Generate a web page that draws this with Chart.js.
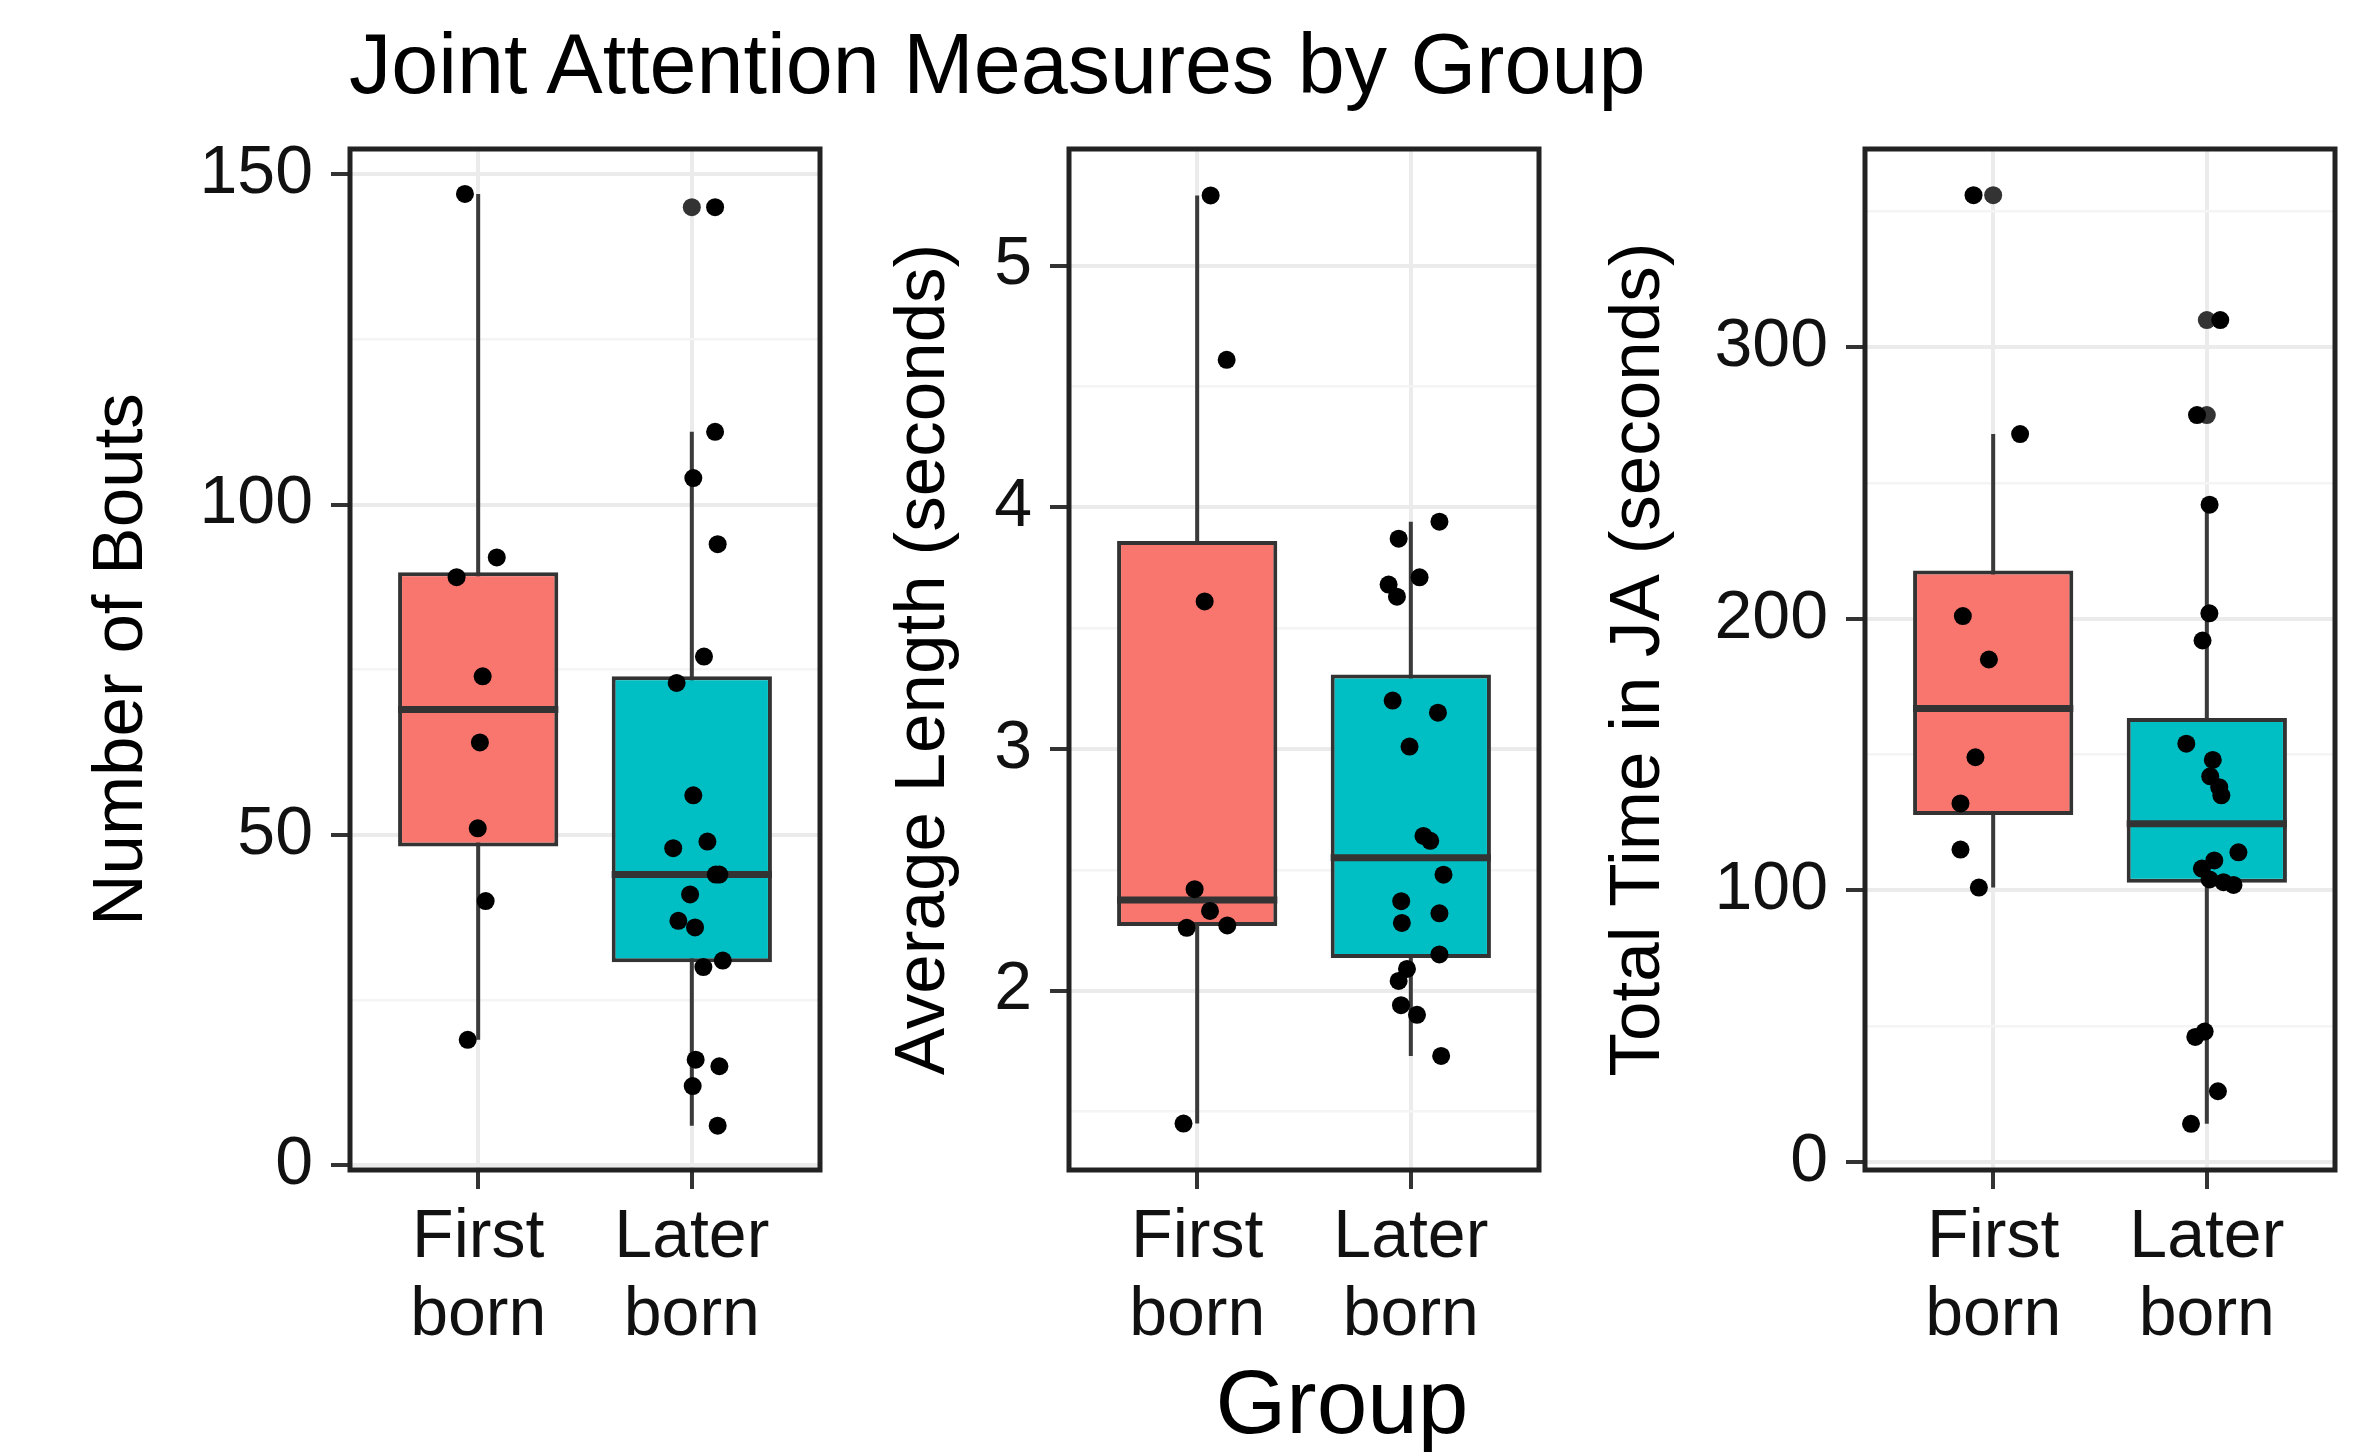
<!DOCTYPE html>
<html>
<head>
<meta charset="utf-8">
<title>Joint Attention Measures by Group</title>
<script src="https://cdn.jsdelivr.net/npm/chart.js@4"></script>
<style>
  body { margin: 0; background: #fff; width: 2375px; height: 1454px; overflow: hidden; position: relative; font-family: 'Liberation Sans', Arial, sans-serif; }
  canvas { position: absolute; top: 0; }
  .txt { position: absolute; line-height: 1; color: #000; white-space: nowrap; }
</style>
</head>
<body>
<div class="txt" style="left:349px; top:22px; font-size:84.5px;">Joint Attention Measures by Group</div>
<div class="txt" style="left:1342px; top:1356px; font-size:91px; transform:translateX(-50%);">Group</div>
<canvas id="bouts" width="850" height="1454" style="left:0px"></canvas>
<canvas id="length" width="720" height="1454" style="left:850px"></canvas>
<canvas id="time" width="805" height="1454" style="left:1570px"></canvas>
<script>
// groups
const groupLabels = [['First', 'born'], ['Later', 'born']];
const fillColors = ['#F8766D', '#00BFC4'];

// Number of Bouts
const boutsFirst = [147, 92, 89, 74, 64, 51, 40, 19];
const boutsFirstJitter = [-0.062, 0.087, -0.101, 0.021, 0.008, -0.002, 0.035, -0.049];
const boutsLater = [145, 111, 104, 94, 77, 73, 56, 49, 48, 44, 44, 41, 37, 36, 31, 30, 16, 15, 12, 6];
const boutsLaterJitter = [0.109, 0.109, 0.007, 0.121, 0.057, -0.071, 0.007, 0.073, -0.087, 0.129, 0.112, -0.008, -0.063, 0.015, 0.145, 0.054, 0.018, 0.129, 0.004, 0.121];
const boutsTicks = [0, 50, 100, 150];
const boutsMinor = [25, 75, 125];

// Average Length (seconds)
const lengthFirst = [5.29, 4.61, 3.61, 2.42, 2.33, 2.27, 2.26, 1.45];
const lengthFirstJitter = [0.063, 0.138, 0.035, -0.012, 0.060, 0.141, -0.049, -0.064];
const lengthLater = [3.94, 3.87, 3.71, 3.68, 3.63, 3.20, 3.15, 3.01, 2.64, 2.62, 2.48, 2.37, 2.32, 2.28, 2.15, 2.09, 2.04, 1.94, 1.90, 1.73];
const lengthLaterJitter = [0.134, -0.057, 0.041, -0.104, -0.065, -0.085, 0.127, -0.006, 0.059, 0.091, 0.153, -0.045, 0.134, -0.042, 0.134, -0.018, -0.057, -0.046, 0.029, 0.142];
const lengthTicks = [2, 3, 4, 5];
const lengthMinor = [1.5, 2.5, 3.5, 4.5];

// Total Time in JA (seconds)
const timeFirst = [356, 268, 201, 185, 149, 132, 115, 101];
const timeFirstJitter = [-0.092, 0.126, -0.142, -0.020, -0.083, -0.153, -0.153, -0.067];
const timeLater = [310, 275, 242, 202, 192, 154, 148, 142, 138, 135, 114, 111, 108, 104, 103, 102, 48, 46, 26, 14];
const timeLaterJitter = [0.063, -0.046, 0.013, 0.012, -0.020, -0.096, 0.028, 0.016, 0.058, 0.068, 0.148, 0.035, -0.023, 0.013, 0.078, 0.125, -0.010, -0.054, 0.052, -0.074];
const timeTicks = [0, 100, 200, 300];
const timeMinor = [50, 150, 250, 350];

const FONT = "'Liberation Sans', Arial, sans-serif";

// R type 7 quantile
function quantile(arr, p) {
  const s = [...arr].sort((a, b) => a - b);
  const h = (s.length - 1) * p;
  const lo = Math.floor(h);
  const next = lo + 1 < s.length ? s[lo + 1] : s[lo];
  return s[lo] + (h - lo) * (next - s[lo]);
}

function boxStats(arr) {
  const q1 = quantile(arr, 0.25);
  const med = quantile(arr, 0.5);
  const q3 = quantile(arr, 0.75);
  const iqr = q3 - q1;
  const inside = arr.filter(v => v >= q1 - 1.5 * iqr && v <= q3 + 1.5 * iqr);
  return {
    q1, med, q3,
    lo: Math.min(...inside),
    hi: Math.max(...inside),
    out: arr.filter(v => v < q1 - 1.5 * iqr || v > q3 + 1.5 * iqr),
  };
}

// panel frame on all four sides
const panelBorder = {
  id: 'panelBorder',
  afterDatasetsDraw(chart) {
    const { ctx, chartArea: a } = chart;
    ctx.save();
    ctx.strokeStyle = '#222';
    ctx.lineWidth = 5;
    ctx.strokeRect(a.left, a.top, a.right - a.left, a.bottom - a.top);
    ctx.restore();
  }
};

function makePanel(id, opts) {
  const stats = opts.groups.map(boxStats);

  const points = [];
  opts.groups.forEach((vals, g) => {
    vals.forEach((v, i) => points.push({ x: g + 1 + opts.jitters[g][i], y: v }));
  });

  const outliers = [];
  stats.forEach((s, g) => s.out.forEach(v => outliers.push({ x: g + 1, y: v })));

  const medians = [];
  const whiskers = [];
  stats.forEach((s, g) => {
    if (g > 0) {
      medians.push({ x: g + 0.5, y: null });
      whiskers.push({ x: g + 0.5, y: null });
    }
    medians.push({ x: g + 1 - 0.375, y: s.med }, { x: g + 1 + 0.375, y: s.med });
    whiskers.push({ x: g + 1, y: s.lo }, { x: g + 1, y: s.hi });
  });

  const boxes = stats.map((s, g) => ({ x: g + 1, y: [s.q1, s.q3] }));
  const isMajor = v => opts.ticks.includes(v);

  return new Chart(document.getElementById(id), {
    type: 'scatter',
    data: {
      datasets: [
        { type: 'scatter', data: points, backgroundColor: '#000', borderWidth: 0, pointRadius: 9, order: 0 },
        { type: 'scatter', data: outliers, backgroundColor: '#333', borderWidth: 0, pointRadius: 9, order: 1 },
        { type: 'line', data: medians, borderColor: '#333', borderWidth: 7, pointRadius: 0, spanGaps: false, order: 2 },
        {
          type: 'bar', data: boxes, backgroundColor: fillColors, borderColor: '#333', borderWidth: 4,
          borderSkipped: false, barPercentage: 0.75, categoryPercentage: 1, order: 3
        },
        { type: 'line', data: whiskers, borderColor: '#3a3a3a', borderWidth: 4, pointRadius: 0, spanGaps: false, order: 4 },
      ]
    },
    options: {
      responsive: false,
      animation: false,
      events: [],
      layout: { padding: { left: 0, top: 149, right: opts.padRight, bottom: 0 } },
      plugins: { legend: { display: false }, tooltip: { enabled: false } },
      scales: {
        x: {
          type: 'linear',
          min: 0.4,
          max: 2.6,
          offset: false,
          afterBuildTicks: s => { s.ticks = [{ value: 1 }, { value: 2 }]; },
          afterFit: s => { s.height = 284; },
          border: { display: false },
          grid: { offset: false, color: '#ebebeb', lineWidth: 4, tickColor: '#333', tickWidth: 4, tickLength: 19 },
          ticks: {
            autoSkip: false,
            maxRotation: 0,
            padding: 10,
            color: '#111',
            font: { family: FONT, size: 68, lineHeight: 1.15 },
            callback: v => groupLabels[v - 1]
          }
        },
        y: {
          min: opts.yMin,
          max: opts.yMax,
          afterBuildTicks: s => {
            s.ticks = [...opts.ticks, ...opts.minor].sort((a, b) => a - b).map(v => ({ value: v }));
          },
          afterFit: s => { s.width = opts.yWidth; },
          border: { display: false },
          grid: {
            color: c => isMajor(c.tick.value) ? '#ebebeb' : '#f4f4f4',
            lineWidth: c => isMajor(c.tick.value) ? 4 : 2.5,
            tickColor: c => isMajor(c.tick.value) ? '#333' : 'rgba(0,0,0,0)',
            tickWidth: 4,
            tickLength: 19
          },
          ticks: {
            autoSkip: false,
            padding: 18,
            color: '#111',
            font: { family: FONT, size: 68 },
            callback: v => isMajor(v) ? String(v) : ''
          },
          title: {
            display: true,
            text: opts.title,
            color: '#000',
            font: { family: FONT, size: 71 },
            padding: { top: opts.titlePad, bottom: 0 }
          }
        }
      }
    },
    plugins: [panelBorder]
  });
}

makePanel('bouts', {
  title: 'Number of Bouts',
  groups: [boutsFirst, boutsLater],
  jitters: [boutsFirstJitter, boutsLaterJitter],
  ticks: boutsTicks, minor: boutsMinor,
  yMin: -0.7, yMax: 153.8,
  yWidth: 350, padRight: 30, titlePad: 80
});

makePanel('length', {
  title: 'Average Length (seconds)',
  groups: [lengthFirst, lengthLater],
  jitters: [lengthFirstJitter, lengthLaterJitter],
  ticks: lengthTicks, minor: lengthMinor,
  yMin: 1.258, yMax: 5.482,
  yWidth: 219, padRight: 31, titlePad: 32
});

makePanel('time', {
  title: 'Total Time in JA (seconds)',
  groups: [timeFirst, timeLater],
  jitters: [timeFirstJitter, timeLaterJitter],
  ticks: timeTicks, minor: timeMinor,
  yMin: -3, yMax: 373,
  yWidth: 295, padRight: 40, titlePad: 27
});
</script>
</body>
</html>
